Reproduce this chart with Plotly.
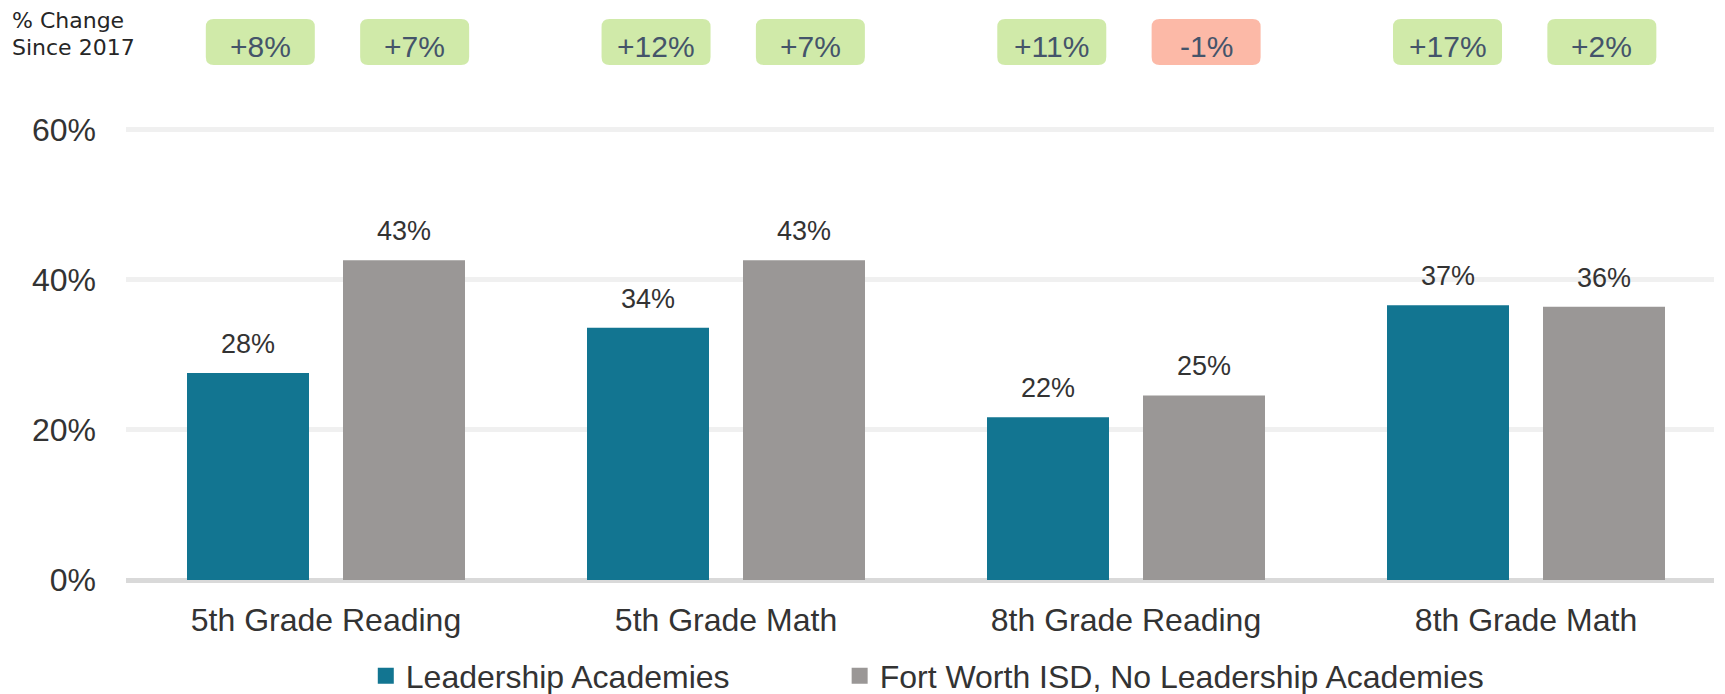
import plotly.graph_objects as go

# ---- data ----
categories = ["5th Grade Reading", "5th Grade Math", "8th Grade Reading", "8th Grade Math"]
leadership = [27.6, 33.6, 21.7, 36.6]
fwisd = [42.6, 42.6, 24.6, 36.4]
leadership_change = ["+8%", "+12%", "+11%", "+17%"]
fwisd_change = ["+7%", "+7%", "-1%", "+2%"]
series_names = ["Leadership Academies", "Fort Worth ISD, No Leadership Academies"]
y_ticks = [0, 20, 40, 60]
y_ticktext = ["0%", "20%", "40%", "60%"]
change_title = ["% Change", "Since 2017"]

TEAL = "#127591"
GRAY = "#9A9796"
GREEN_BOX = "#D0EAA9"
RED_BOX = "#FCB9A7"
BOX_TEXT = "#44546A"
TEXT = "#333333"
FONT = "Liberation Sans, Arial, sans-serif"

BARGAP = 0.22
BARGROUPGAP = 0.218
slot = (1 - BARGAP) / 2

fig = go.Figure()
fig.add_bar(x=categories, y=leadership, marker_color=TEAL, marker_line_width=0,
            showlegend=False, name=series_names[0])
fig.add_bar(x=categories, y=fwisd, marker_color=GRAY, marker_line_width=0,
            showlegend=False, name=series_names[1])

# legend proxies (one per legend box so each can be placed)
fig.add_scatter(x=[categories[0]], y=[None], mode="markers", name=series_names[0],
                marker=dict(symbol="square", size=16, color=TEAL), legend="legend")
fig.add_scatter(x=[categories[0]], y=[None], mode="markers", name=series_names[1],
                marker=dict(symbol="square", size=16, color=GRAY), legend="legend2")


def rrect(w, h, r):
    hw, hh = w / 2, h / 2
    L, R = -hw, hw
    return (f"M {L+r},{-hh} L {R-r},{-hh} Q {R},{-hh} {R},{-hh+r} "
            f"L {R},{hh-r} Q {R},{hh} {R-r},{hh} L {L+r},{hh} "
            f"Q {L},{hh} {L},{hh-r} L {L},{-hh+r} Q {L},{-hh} {L+r},{-hh} Z")


BOX_Y = 1.185
shapes = []
annotations = []
for i in range(len(categories)):
    for j, (vals, changes) in enumerate([(leadership, leadership_change), (fwisd, fwisd_change)]):
        xc = i - slot / 2 if j == 0 else i + slot / 2
        v = vals[i]
        annotations.append(dict(x=xc, y=v, xref="x", yref="y", text=f"{round(v)}%",
                                showarrow=False, yanchor="bottom", yshift=12,
                                font=dict(family=FONT, size=27, color=TEXT)))
        ch = changes[i]
        color = RED_BOX if ch.startswith("-") else GREEN_BOX
        # the change boxes sit on their own, slightly different, horizontal scale (x2)
        shapes.append(dict(type="path", xref="x2", yref="paper",
                           xsizemode="pixel", ysizemode="pixel",
                           xanchor=xc, yanchor=BOX_Y,
                           path=rrect(109, 46, 8), fillcolor=color, line_width=0))
        annotations.append(dict(x=xc, y=BOX_Y, xref="x2", yref="paper", text=ch,
                                showarrow=False, yanchor="middle", xanchor="center",
                                yshift=-4,
                                font=dict(family=FONT, size=30, color=BOX_TEXT)))

for line, yy in zip(change_title, [1.2313, 1.174]):
    annotations.append(dict(x=-0.0730, y=yy, xref="paper", yref="paper",
                            text=line, showarrow=False,
                            xanchor="left", yanchor="middle", align="left",
                            font=dict(family="DejaVu Sans, sans-serif", size=22,
                                      color="#262626")))

legend_common = dict(orientation="h", yanchor="middle", y=-0.2115, xanchor="left",
                     font=dict(family=FONT, size=32, color=TEXT),
                     bgcolor="rgba(0,0,0,0)")

fig.update_layout(
    width=1725, height=694,
    margin=dict(l=126, r=11, t=126, b=114, autoexpand=False),
    paper_bgcolor="white", plot_bgcolor="white",
    barmode="group", bargap=BARGAP, bargroupgap=BARGROUPGAP,
    shapes=shapes, annotations=annotations,
    font=dict(family=FONT, color=TEXT),
    legend=dict(x=0.151, **legend_common),
    legend2=dict(x=0.4494, **legend_common),
    xaxis2=dict(type="linear", overlaying="x", range=[-0.5344, 3.4784],
                visible=False, showgrid=False, zeroline=False),
    xaxis=dict(type="category", showgrid=False, showline=False, ticks="",
               tickfont=dict(family=FONT, size=32, color=TEXT),
               ticklabelstandoff=18, range=[-0.5, 3.47], automargin=False),
)
fig.update_yaxes(range=[0, 60.5], tickvals=y_ticks, ticktext=y_ticktext,
                 showgrid=True, gridcolor="#F0F0F0", gridwidth=5,
                 zeroline=True, zerolinecolor="#D9D9D9", zerolinewidth=5,
                 showline=False, ticks="", ticklabelstandoff=29, automargin=False,
                 tickfont=dict(family=FONT, size=32, color=TEXT))

fig.write_html("out.html", config={"displayModeBar": False},
               post_script="document.body.style.margin='0';")
